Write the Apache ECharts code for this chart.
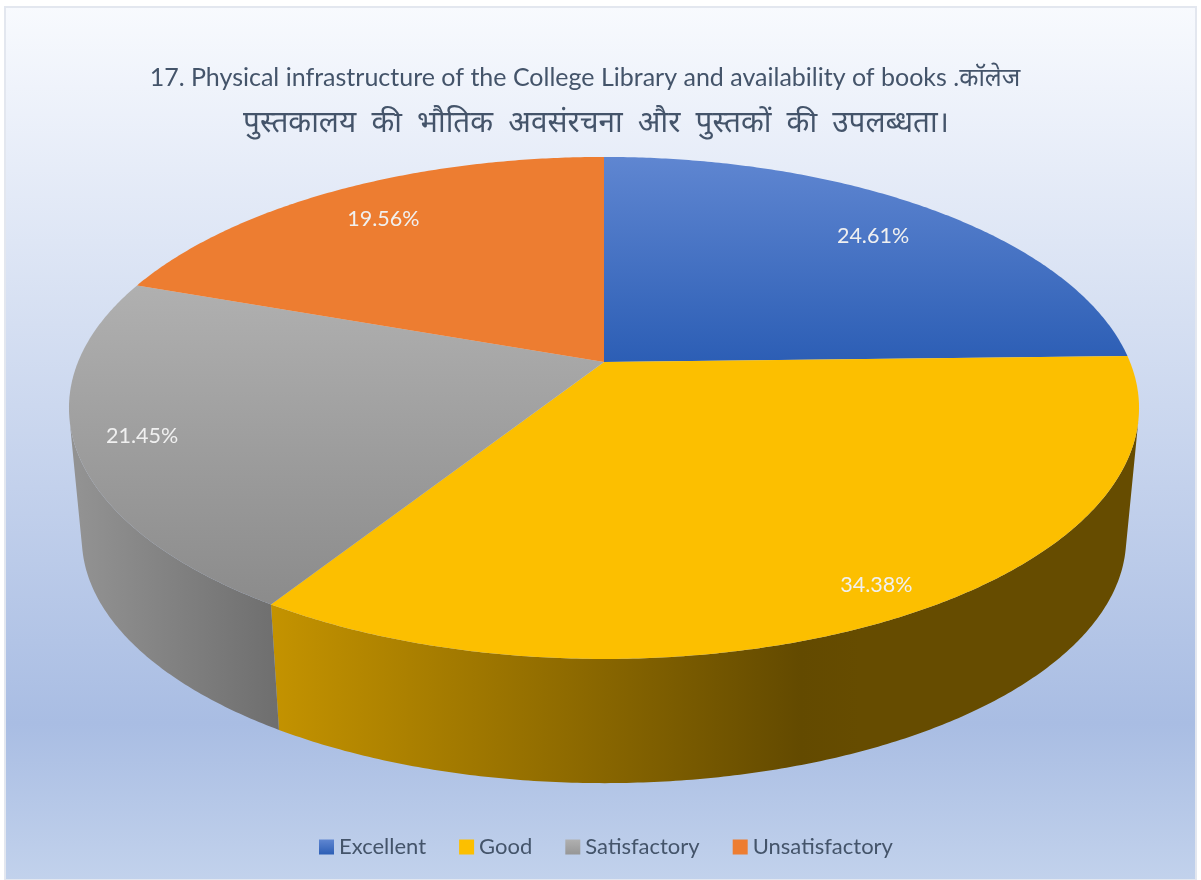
<!DOCTYPE html>
<html><head><meta charset="utf-8">
<style>html,body{margin:0;padding:0;background:#fff}#c{width:1201px;height:880px}</style>
<script src="https://cdn.jsdelivr.net/npm/echarts@6/dist/echarts.min.js"></script>
</head><body><div id="c"></div>
<script>
const categories = ['Excellent', 'Good', 'Satisfactory', 'Unsatisfactory'];
const percentValues = [24.61, 34.38, 21.45, 19.56];
const titleLines = ['17. Physical infrastructure of the College Library and availability of books .कॉलेज', 'पुस्तकालय की भौतिक अवसंरचना और पुस्तकों की उपलब्धता।'];
const labelRadii = [0.81, 0.90, 0.88, 0.816];

const geo = {cx:604, cy:362, rx:526, ry:242.6, k:0.183, s:0.976, t:140};
const linear = (x,y,x2,y2,stops,global) => ({type:'linear',x,y,x2,y2,global:!!global,
  colorStops:stops.map((c,i)=>({offset:c[0],color:c[1]}))});
const topFills = [
  linear(0,157,0,362,[[0,'#5f86d1'],[1,'#2c5eb5']],true),
  '#fcbf00',
  linear(0,286,0,606,[[0,'#b0b0b0'],[1,'#8b8b8b']],true),
  '#ed7d31'
];
const sideFills = [
  '#1f3f78',
  linear(271,0,860,0,[[0,'#c49300'],[0.5,'#8f6b00'],[0.9,'#634a00'],[1,'#664c00']],true),
  linear(80,0,280,0,[[0,'#929292'],[1,'#6e6e6e']],true),
  '#a0561f'
];
const legendFills = [
  linear(0,0,0,1,[[0,'#5f86d1'],[1,'#2c5eb5']]),
  '#fcbf00',
  linear(0,0,0,1,[[0,'#b0b0b0'],[1,'#969696']]),
  '#ed7d31'
];
function project(theta, f){
  const u = f*Math.sin(theta), v = -f*Math.cos(theta), w = 1-geo.k*v;
  return [geo.cx+geo.rx*u/w, geo.cy+geo.ry*v/w];
}
const lower = p => [geo.cx+(p[0]-geo.cx)*geo.s, p[1]*geo.s+geo.t];
const total = percentValues.reduce((a,b)=>a+b,0);
function renderSlice(i){
  return function(params, api){
    const value = api.value(0);
    const before = percentValues.slice(0,i).reduce((a,b)=>a+b,0);
    const a0 = before/total*2*Math.PI, a1 = (before+value)/total*2*Math.PI;
    const n = Math.max(2,Math.ceil((a1-a0)/(Math.PI/360)));
    const arc = [];
    for(let j=0;j<=n;j++) arc.push(project(a0+(a1-a0)*j/n,1));
    const bottom = arc.map(lower);
    // keep only the camera-facing part of the rim
    const frontTop = [], frontBottom = [];
    for(let j=0;j<n;j++){
      const dx = arc[j+1][0]-arc[j][0], dy = arc[j+1][1]-arc[j][1];
      const ex = bottom[j][0]-arc[j][0], ey = bottom[j][1]-arc[j][1];
      if(dx*ey-dy*ex<0){
        if(!frontTop.length){frontTop.push(arc[j]);frontBottom.push(bottom[j]);}
        frontTop.push(arc[j+1]);frontBottom.push(bottom[j+1]);
      }
    }
    const lp = project((a0+a1)/2,labelRadii[i]);
    const children = [];
    if(frontTop.length){
      children.push({type:'polygon',z2:1,silent:true,
        shape:{points:frontTop.concat(frontBottom.reverse())},style:{fill:sideFills[i]}});
    }
    children.push(
      {type:'polygon',z2:2,shape:{points:[[geo.cx,geo.cy]].concat(arc)},style:{fill:topFills[i]},silent:true},
      {type:'text',z2:3,x:lp[0],y:lp[1]+1,silent:true,style:{text:value.toFixed(2)+'%',fill:'#f0f0f0',
        font:'21.5px Lato',align:'center',verticalAlign:'middle'}}
    );
    return {type:'group',children};
  };
}
const chart = echarts.init(document.getElementById('c'),null,{renderer:'canvas'});
chart.setOption({
  animation:false,
  backgroundColor:'#ffffff',
  graphic:[{type:'rect',z:-10,shape:{x:5,y:7,width:1191,height:873},
    style:{fill:linear(0,0,0,1,[[0,'#f8fafe'],[0.82,'#a9bde3'],[1,'#c2d2ec']]),stroke:'#e3e7ef',lineWidth:2}}],
  title:{text:'{a|'+titleLines[0]+'}\n{b|'+titleLines[1].replace(/ /g,'  ')+'}',left:580,top:52,textAlign:'center',
    textStyle:{fontWeight:'normal',rich:{
      a:{fontFamily:'Lato, "Noto Sans", sans-serif',fontSize:25,fontWeight:'normal',color:'#44546a',lineHeight:42,align:'center'},
      b:{fontFamily:'Lato, "Noto Sans", sans-serif',fontSize:29.7,fontWeight:'normal',color:'#44546a',lineHeight:46,align:'center',padding:[0,0,0,22]}
    }}},
  legend:{data:categories,left:314,top:831,icon:'rect',itemWidth:15,itemHeight:15,itemGap:33,
    textStyle:{fontFamily:'Lato, sans-serif',fontSize:22,color:'#44546a'}},
  series:categories.map((name,i)=>({
    type:'custom',name,coordinateSystem:'none',itemStyle:{color:legendFills[i]},
    renderItem:renderSlice(i),data:[[percentValues[i]]]
  }))
});
</script></body></html>
